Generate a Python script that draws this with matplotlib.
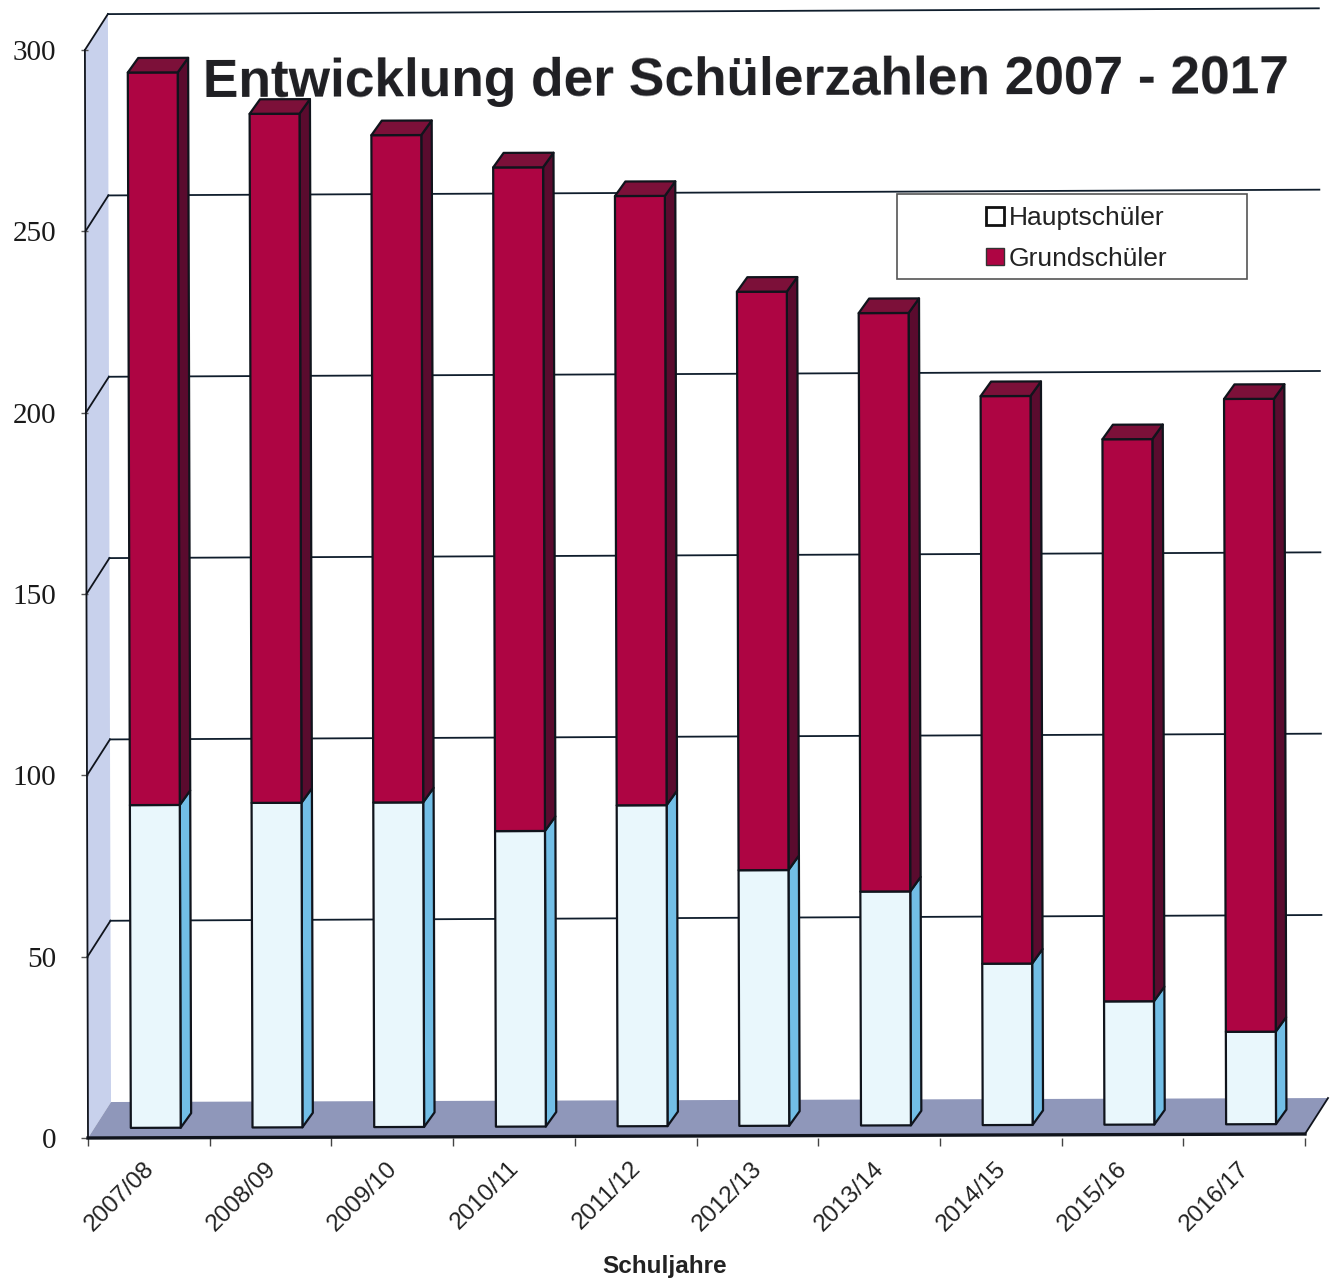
import matplotlib
matplotlib.use("Agg")
import matplotlib.pyplot as plt
from matplotlib.patches import Polygon, Rectangle, Patch
from matplotlib.transforms import Affine2D

# ---- data -------------------------------------------------------------
schuljahre = ["2007/08", "2008/09", "2009/10", "2010/11", "2011/12",
              "2012/13", "2013/14", "2014/15", "2015/16", "2016/17"]
hauptschueler = [89, 89.5, 89.5, 81.5, 88.5, 70.5, 64.5, 44.5, 34, 25.5]
grundschueler = [202, 190, 184, 183, 168, 159.5, 159.5, 156.5, 155, 174.5]
y_ticks = [0, 50, 100, 150, 200, 250, 300]
title = "Entwicklung der Schülerzahlen 2007 - 2017"

# ---- style ------------------------------------------------------------
W, H = 1330, 1282
L, R, B, T = 88, 1305, 1138, 50       # plot box in pixels
RED_F, RED_T, RED_S = "#AE0543", "#7C1039", "#5A0B2E"
ICE_F, ICE_S = "#E9F7FC", "#72BEE6"
WALL, FLOOR = "#C8D1EC", "#8F97BA"
EDGE = "#10141c"

fig = plt.figure(figsize=(W / 100, H / 100), dpi=100, facecolor="white")
ax = fig.add_axes([L / W, 1 - B / H, (R - L) / W, (B - T) / H])
ax.set_xlim(0, len(schuljahre))
ax.set_ylim(0, 300)
ax.patch.set_alpha(0)
for s in ax.spines.values():
    s.set_visible(False)

# the scan is slightly rotated: one transform for every mark
LEAN, TILT = 8.5e-5, 0.11
tr = Affine2D.from_values(1, TILT, -LEAN, 1, 0, 0) + ax.transData
tr_back = Affine2D.from_values(1, 0.16, -LEAN, 1, 0, 0) + ax.transData

DX, DY = 0.19, 9.9                    # depth of the chart room
BDX, BDY = 0.086, 4.0                 # depth of a bar
BASE = 2.75                           # bar base above the axis
BW = 0.41                             # bar width


def poly(pts, fc, ec=EDGE, lw=1.6, z=2, t=tr):
    ax.add_patch(Polygon(pts, closed=True, fc=fc, ec=ec, lw=lw, zorder=z,
                         transform=t, clip_on=False, joinstyle="round"))


n = len(schuljahre)
# left wall and floor
poly([(0, 0), (DX, DY), (DX, 300 + DY), (0, 300)], WALL, ec="none", z=1)
poly([(0, 0), (DX, DY), (n + DX, DY), (n, 0)], FLOOR, ec="none", z=1)

# grid lines: along the wall, then along the back
for v in y_ticks[1:]:
    ax.plot([0, DX], [v, v + DY], color=EDGE, lw=1.3, transform=tr, clip_on=False, zorder=1.5)
    ax.plot([DX, n + DX - 0.05], [v + DY - 0.16 * DX, v + DY - 0.16 * DX], color="#0f1d2c", lw=1.3,
            transform=tr_back, clip_on=False, zorder=1.5)
ax.plot([0, 0], [0, 300], color=EDGE, lw=1.3, transform=tr, clip_on=False, zorder=1.6)
ax.plot([0, n], [0, 0], color=EDGE, lw=2.4, transform=tr, clip_on=False, zorder=1.6)
ax.plot([n, n + DX], [0, DY], color=EDGE, lw=1.3, transform=tr, clip_on=False, zorder=1.6)

# bars
for i, (h, g) in enumerate(zip(hauptschueler, grundschueler)):
    x0 = i + 0.352
    x1 = x0 + BW
    y0 = BASE
    y1 = y0 + h
    y2 = y1 + g
    # hauptschueler
    poly([(x1, y0), (x1 + BDX, y0 + BDY), (x1 + BDX, y1 + BDY), (x1, y1)], ICE_S, z=3)
    poly([(x0, y0), (x1, y0), (x1, y1), (x0, y1)], ICE_F, z=4)
    # grundschueler
    poly([(x1, y1), (x1 + BDX, y1 + BDY), (x1 + BDX, y2 + BDY), (x1, y2)], RED_S, z=3)
    poly([(x0, y1), (x1, y1), (x1, y2), (x0, y2)], RED_F, z=4)
    poly([(x0, y2), (x1, y2), (x1 + BDX, y2 + BDY), (x0 + BDX, y2 + BDY)], RED_T, z=4)

# axes: marks on the category edges, labels between them
ax.set_yticks(y_ticks)
ax.set_yticklabels([str(v) for v in y_ticks], family="Liberation Serif", fontsize=21, color="#1a1a1a")
ax.tick_params(axis="y", length=5, width=1, color="#555555", pad=18)
ax.set_xticks([i + 0.45 for i in range(n)])
ax.set_xticklabels(schuljahre, rotation=45, ha="right", va="top", rotation_mode="anchor",
                   family="Liberation Sans", fontsize=17.5, color="#222222")
ax.tick_params(axis="x", which="major", length=0, pad=14)
ax.set_xticks(range(n + 1), minor=True)
ax.tick_params(axis="x", which="minor", length=6, width=1, color="#444444")
ax.set_xlabel("Schuljahre", family="Liberation Sans", fontweight="bold", fontsize=17.5, color="#222222",
              va="center")
ax.xaxis.set_label_coords((665 - L) / (R - L), -(1266 - B) / (B - T))

# title
fig.text(203 / W, 1 - 97 / H, title, family="Liberation Sans", fontweight="bold", fontsize=38.3,
         color="#1e1e22", ha="left", va="baseline", rotation=0.2, rotation_mode="anchor", zorder=6)

# legend box and legend
fig.add_artist(Rectangle((897 / W, 1 - 279 / H), 350 / W, 85 / H, transform=fig.transFigure,
                         fc="white", ec="#555555", lw=1.2, zorder=5))
leg = fig.legend(handles=[Patch(fc="white", ec="#111111", lw=2, label="Hauptschüler"),
                          Patch(fc=RED_F, ec="#333333", lw=1, label="Grundschüler")],
                 loc="center", bbox_to_anchor=(1077 / W, 1 - 238.5 / H), frameon=False,
                 prop={"family": "Liberation Sans", "size": 19}, handlelength=0.65, handleheight=0.65,
                 handletextpad=0.2, labelspacing=0.62, labelcolor="#222222")
leg.set_zorder(7)

fig.savefig("out.png", dpi=100)
